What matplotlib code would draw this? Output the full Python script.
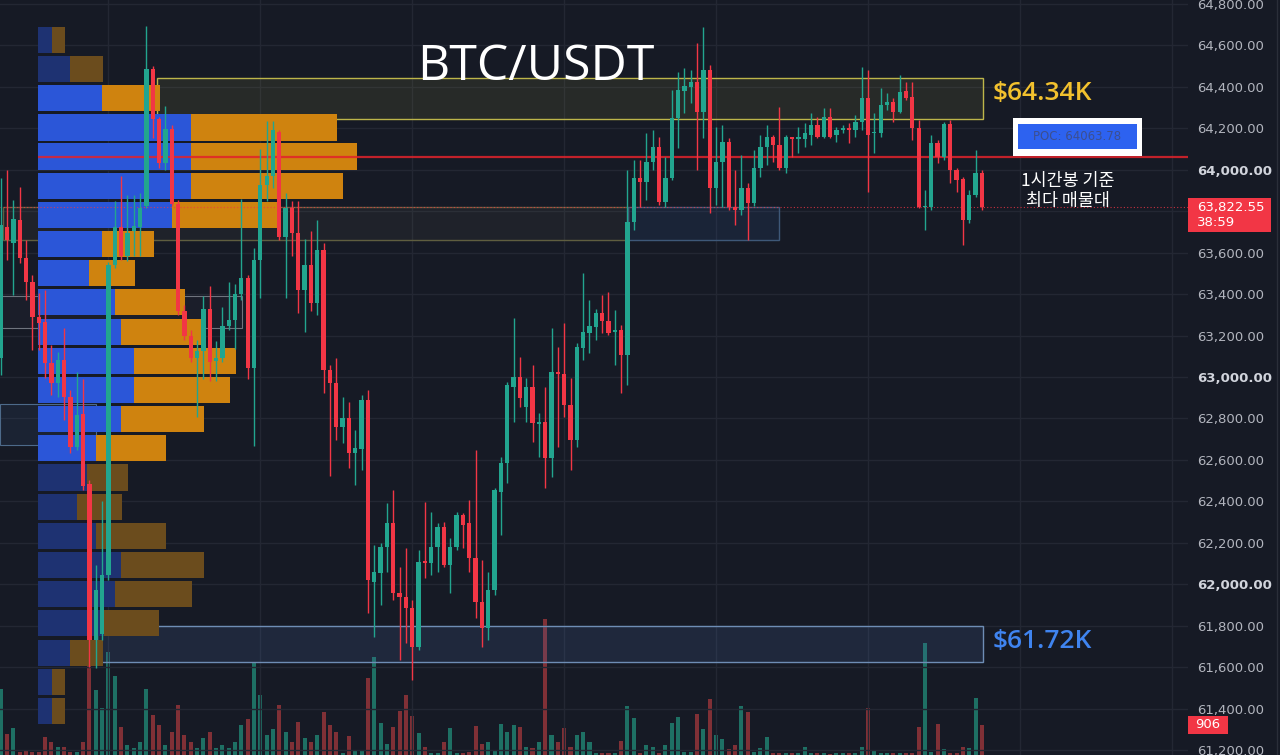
import numpy as np
import matplotlib
matplotlib.use("Agg")
import matplotlib.pyplot as plt
from matplotlib.patches import Rectangle

plt.rcParams['font.family'] = ['DejaVu Sans', 'Noto Sans CJK KR']

# ---- datos de velas (1h) ----
opens = [63091, 63724, 63646, 63757, 63574, 63458, 63289, 63265, 63067, 62971,
         63082, 62903, 62662, 62821, 62483, 61730, 61759, 62044, 63540, 63724,
         63583, 63704, 63724, 63825, 64486, 64245, 64032, 64196, 63835, 63318,
         63197, 63091, 63125, 63328, 63077, 63091, 63246, 63275, 63400, 63477,
         63043, 63564, 63926, 63970, 64182, 63675, 63815, 63695, 63420, 63540,
         63357, 63613, 63033, 62971, 62758, 62802, 62633, 62652, 62889, 62010,
         62054, 62179, 62295, 61957, 61938, 61885, 61697, 62112, 62102, 62179,
         62276, 62092, 62179, 62334, 62295, 62126, 61914, 61788, 61972, 62445,
         62585, 62951, 63000, 62855, 62951, 62773, 62782, 62609, 63024, 63014,
         62864, 62696, 63140, 63212, 63241, 63309, 63270, 63217, 63227, 63106,
         63748, 63960, 63941, 64037, 64110, 63844, 63960, 64250, 64380, 64399,
         64423, 64278, 64481, 63912, 64037, 64134, 63820, 63806, 63912, 63839,
         64008, 64110, 64158, 64119, 64008, 64158, 64148, 64148, 64168, 64216,
         64158, 64254, 64168, 64192, 64201, 64192, 64231, 64346, 64177, 64177,
         64312, 64327, 64278, 64380, 64351, 64201, 63820, 63820, 64129, 64061,
         64221, 63999, 63955, 63757, 63878, 63984]
highs = [63960, 63999, 63854, 63917, 63661, 63492, 63405, 63420, 63154, 63120,
         63236, 62937, 63024, 62990, 62503, 62092, 62401, 63555, 63849, 63970,
         63878, 63878, 63888, 64694, 64500, 64254, 64307, 64216, 63854, 63347,
         63226, 63178, 63390, 63439, 63173, 63337, 63458, 63448, 63859, 63492,
         63622, 64100, 64235, 64235, 64192, 63888, 63849, 63849, 63666, 63704,
         63757, 63646, 63058, 63091, 62903, 62879, 62744, 62913, 62937, 62189,
         62199, 62392, 62454, 62083, 62174, 61923, 62165, 62396, 62348, 62295,
         62300, 62223, 62348, 62343, 62406, 62647, 62117, 62059, 62464, 62614,
         62976, 63284, 63096, 62995, 63058, 62826, 62951, 63236, 63144, 63260,
         62995, 63164, 63502, 63371, 63328, 63395, 63410, 63323, 63251, 63999,
         64047, 64047, 64177, 64192, 64158, 64061, 64385, 64472, 64491, 64481,
         64612, 64689, 64505, 64206, 64216, 64153, 63999, 64071, 63936, 64095,
         64168, 64216, 64168, 64303, 64168, 64158, 64206, 64225, 64274, 64254,
         64298, 64298, 64206, 64216, 64225, 64264, 64496, 64481, 64274, 64394,
         64370, 64346, 64457, 64423, 64423, 64240, 63902, 64168, 64143, 64230,
         64240, 64008, 63965, 63902, 64095, 63999]
lows = [63009, 63564, 63395, 63550, 63371, 63130, 63130, 62995, 62913, 62903,
        62792, 62633, 62647, 62454, 61600, 61595, 61730, 62020, 63526, 63564,
        63559, 63583, 63583, 63815, 64153, 64008, 63999, 63825, 63299, 63178,
        63072, 62807, 62990, 62980, 62980, 63072, 63226, 63135, 63371, 62990,
        62667, 63381, 63849, 63912, 63661, 63381, 63583, 63309, 63217, 63318,
        63299, 62922, 62522, 62696, 62681, 62560, 62478, 62551, 61861, 61745,
        61899, 62059, 61923, 61634, 61716, 61537, 61682, 62030, 62044, 62059,
        62083, 61957, 62165, 62174, 62059, 61836, 61697, 61730, 61948, 62237,
        62488, 62782, 62855, 62782, 62686, 62614, 62464, 62517, 62662, 62807,
        62551, 62662, 63082, 63115, 63178, 63212, 63202, 63058, 62922, 62961,
        63709, 63820, 63854, 63999, 63830, 63820, 63950, 64105, 64274, 64322,
        63999, 64153, 63791, 63830, 63820, 63806, 63733, 63781, 63661, 63825,
        63965, 64023, 64037, 63999, 63984, 64061, 64081, 64110, 64119, 64153,
        64153, 64153, 64134, 64177, 64129, 64158, 64192, 63892, 64081, 64158,
        64288, 64230, 64274, 64336, 64143, 63815, 63709, 63806, 64032, 64047,
        63936, 63892, 63637, 63743, 63868, 63806]
closes = [63733, 63661, 63762, 63574, 63458, 63289, 63260, 63067, 62971, 63082,
          62903, 62662, 62816, 62474, 61730, 61972, 62044, 63540, 63724, 63583,
          63695, 63728, 63815, 64486, 64245, 64032, 64196, 63835, 63318, 63197,
          63091, 63125, 63328, 63072, 63091, 63246, 63275, 63400, 63477, 63043,
          63564, 63926, 63970, 64192, 63675, 63815, 63695, 63420, 63540, 63357,
          63613, 63033, 62971, 62758, 62802, 62633, 62657, 62889, 62020, 62059,
          62179, 62295, 61957, 61938, 61885, 61697, 62107, 62102, 62179, 62276,
          62092, 62179, 62334, 62285, 62126, 61914, 61788, 61972, 62454, 62585,
          62961, 63000, 62898, 62951, 62778, 62782, 62609, 63024, 63014, 62864,
          62696, 63144, 63217, 63246, 63309, 63270, 63212, 63227, 63106, 63748,
          63960, 63941, 64037, 64110, 63844, 63960, 64250, 64385, 64404, 64423,
          64278, 64481, 63912, 64037, 64134, 63820, 63806, 63912, 63839, 64008,
          64110, 64158, 64119, 64008, 64158, 64148, 64158, 64177, 64216, 64158,
          64254, 64158, 64192, 64201, 64192, 64231, 64346, 64168, 64182, 64312,
          64327, 64278, 64375, 64346, 64201, 63820, 63825, 64129, 64061, 64221,
          63999, 63950, 63757, 63878, 63984, 63822.55]
volumes = [1993, 634, 815, 91, 150, 91, 91, 544, 393, 242,
           242, 91, 91, 393, 3171, 1963, 1419, 3111, 2386, 846,
           300, 200, 400, 2000, 1200, 900, 300, 700, 1500, 600,
           400, 200, 500, 700, 200, 300, 200, 400, 900, 1100,
           2800, 1800, 600, 800, 1500, 700, 400, 1000, 500, 400,
           600, 1300, 900, 700, 60, 574, 151, 151, 2325, 2960,
           966, 332, 846, 1329, 1812, 1178, 664, 242, 60, 60,
           393, 815, 60, 60, 91, 876, 332, 393, 151, 936,
           695, 906, 846, 242, 211, 393, 4107, 604, 393, 815,
           242, 604, 695, 393, 60, 60, 60, 60, 423, 1480,
           1117, 60, 302, 242, 60, 302, 966, 1148, 91, 91,
           1238, 785, 1691, 604, 483, 181, 302, 1480, 1299, 91,
           211, 544, 60, 60, 60, 60, 60, 242, 60, 60,
           60, 30, 60, 60, 60, 60, 242, 1419, 121, 60,
           60, 60, 60, 60, 60, 846, 3382, 90, 936, 181,
           60, 60, 242, 211, 1721, 906]

# ---- perfil de volumen (filas de precio) ----
vp_levels = [64627, 64486, 64345, 64204, 64064, 63923, 63782, 63641, 63500, 63360,
             63219, 63078, 62937, 62796, 62656, 62515, 62374, 62233, 62092, 61951,
             61811, 61670, 61529, 61388]
vp_buy = [140, 320, 640, 1530, 1530, 1530, 1340, 640, 510, 770, 830, 960,
          960, 830, 580, 490, 390, 580, 830, 770, 660, 320, 140, 140]
vp_sell = [130, 330, 580, 1460, 1660, 1520, 1080, 520, 460, 700, 810, 1020,
           960, 830, 700, 410, 450, 700, 830, 770, 550, 330, 130, 130]
value_area = range(2, 15)

poc = 64063.78
last_price = 63822.55
price_ticks = list(range(61200, 64801, 200))

# ---- estilo ----
BG = '#161a25'
GRID = '#232733'
UP = '#22a58f'
DOWN = '#f23645'

W, H = 1280, 755
fig = plt.figure(figsize=(W / 100, H / 100), dpi=100, facecolor=BG)
ax = fig.add_axes([0, 0, 1188 / W, 1])
axv = ax.twinx()
ax.set_zorder(2)
axv.set_zorder(1)
ax.patch.set_visible(False)
axv.set_facecolor(BG)

n = len(closes)
idx = np.arange(n)
o = np.array(opens, float)
c = np.array(closes, float)
hi = np.array(highs, float)
lo = np.array(lows, float)
up = c >= o
cols = np.where(up, UP, DOWN)

ax.set_xlim(-0.126, 187.55)
ax.set_ylim(61175.9, 64819.3)

# cajas de zonas
def box(x0, x1, p0, p1, ec, fc, lw=1.0, z=1):
    ax.add_patch(Rectangle((x0, p0), x1 - x0, p1 - p0, facecolor=fc,
                           edgecolor=ec, lw=lw, zorder=z))

box(0.35, 99.1, 63661, 63820, '#5f5e40', (0.6, 0.6, 0.45, 0.07))
box(99.1, 122.9, 63661, 63820, '#3e5878', (0.2, 0.35, 0.6, 0.16))
box(-0.13, 38.1, 63236, 63391, '#6f747e', (0.6, 0.6, 0.65, 0.04), lw=0.8)
box(-0.13, 15.0, 62672, 62870, '#4d6a8a', (0.25, 0.4, 0.6, 0.12), lw=0.8)
box(24.68, 155.17, 64245, 64443, '#bdb54a', (0.83, 0.8, 0.3, 0.09))
box(15.2, 155.17, 61624, 61798, '#6e8db5', (0.3, 0.45, 0.7, 0.17))

# perfil de volumen a la izquierda
vp_left = 5.88
vp_scale = 0.1 / 6.33
for k, (lvl, b, s) in enumerate(zip(vp_levels, vp_buy, vp_sell)):
    bright = k in value_area
    cb = '#2b56d8' if bright else '#1e3272'
    cs = '#cf830f' if bright else '#6b4c1d'
    ax.barh(lvl, b * vp_scale, left=vp_left, height=126, color=cb, zorder=2)
    ax.barh(lvl, s * vp_scale, left=vp_left + b * vp_scale, height=126,
            color=cs, zorder=2)

# POC y precio actual
ax.hlines(poc, vp_left, 187.55, color='#e1232b', lw=1.6, alpha=0.85, zorder=3)
ax.axhline(last_price, color=DOWN, lw=0.8, ls=(0, (1, 2)), alpha=0.8, zorder=3)

# velas
ax.vlines(idx, lo, hi, colors=cols, lw=1.0, zorder=4)
body = np.maximum(np.abs(c - o), 5)
ax.bar(idx, body, bottom=np.minimum(o, c), width=0.68, color=cols, zorder=5)

# volumen abajo
vcols = np.where(up, '#1f7a6c', '#8c3339')
axv.bar(idx, volumes, width=0.64, color=vcols, alpha=0.9)
axv.set_ylim(0, 22800)
axv.set_yticks([])
axv.tick_params(length=0)
for sp in axv.spines.values():
    sp.set_visible(False)

# rejilla y eje de precios (63,800 queda tapado por la etiqueta del precio)
ax.set_xticks([16.95 + 24 * k for k in range(8)])
ax.tick_params(axis='x', length=0, labelbottom=False)
ax.set_yticks(price_ticks)
ax.set_yticklabels(['' if v == 63800 else f"{v:,.2f}" for v in price_ticks])
ax.yaxis.tick_right()
ax.tick_params(axis='y', length=0, pad=6.5, labelsize=9.5, labelcolor='#b2b5be')
for lab, v in zip(ax.get_yticklabels(), price_ticks):
    if v % 1000 == 0:
        lab.set_fontweight('bold')
        lab.set_color('#d1d4dc')
ax.grid(True, color=GRID, lw=1.0, zorder=0)
ax.set_axisbelow(True)
for sp in ax.spines.values():
    sp.set_visible(False)

# textos y etiquetas
def fx(px):
    return px / W

def fy(py):
    return 1 - py / H

def frect(x0, y0, x1, y1, fc, ec='none', lw=0):
    fig.add_artist(Rectangle((fx(x0), fy(y1)), (x1 - x0) / W, (y1 - y0) / H,
                             transform=fig.transFigure, facecolor=fc,
                             edgecolor=ec, lw=lw, zorder=10))

fig.text(fx(536), fy(67), 'BTC/USDT', color='white', fontsize=36,
         family='Open Sans', fontweight='medium', ha='center', va='center',
         zorder=11)
fig.text(fx(993), fy(94), '$64.34K', color='#f2c12e', fontsize=19,
         family='Open Sans', fontweight='semibold', ha='left', va='center',
         zorder=11)
fig.text(fx(993), fy(641), '$61.72K', color='#3f84f0', fontsize=19,
         family='Open Sans', fontweight='semibold', ha='left', va='center',
         zorder=11)

frect(1013, 118, 1142, 156, 'white')
frect(1018, 124, 1137, 149, '#2d62f0')
fig.text(fx(1077), fy(137), 'POC: 64063.78', color='#3c4f8f', fontsize=8.5,
         ha='center', va='center', zorder=11)

fig.text(fx(1068), fy(191), '1시간봉 기준\n최다 매물대', color='white',
         fontsize=12.5, family=['Noto Sans CJK KR', 'DejaVu Sans'],
         ha='center', va='center', linespacing=1.1, zorder=11)

frect(1188, 198, 1271, 232, DOWN)
fig.text(fx(1197), fy(207), '63,822.55', color='white', fontsize=9.5,
         ha='left', va='center', zorder=11)
fig.text(fx(1197), fy(223), '38:59', color='white', fontsize=9.5,
         ha='left', va='center', zorder=11)
frect(1188, 716, 1228, 734, DOWN)
fig.text(fx(1208), fy(725), '906', color='white', fontsize=9.5,
         ha='center', va='center', zorder=11)

fig.add_artist(plt.Line2D([fx(1277), fx(1277)], [0, 1], color='#2a2e39',
                          lw=1, transform=fig.transFigure))

fig.savefig('out.png', dpi=100, facecolor=BG)
